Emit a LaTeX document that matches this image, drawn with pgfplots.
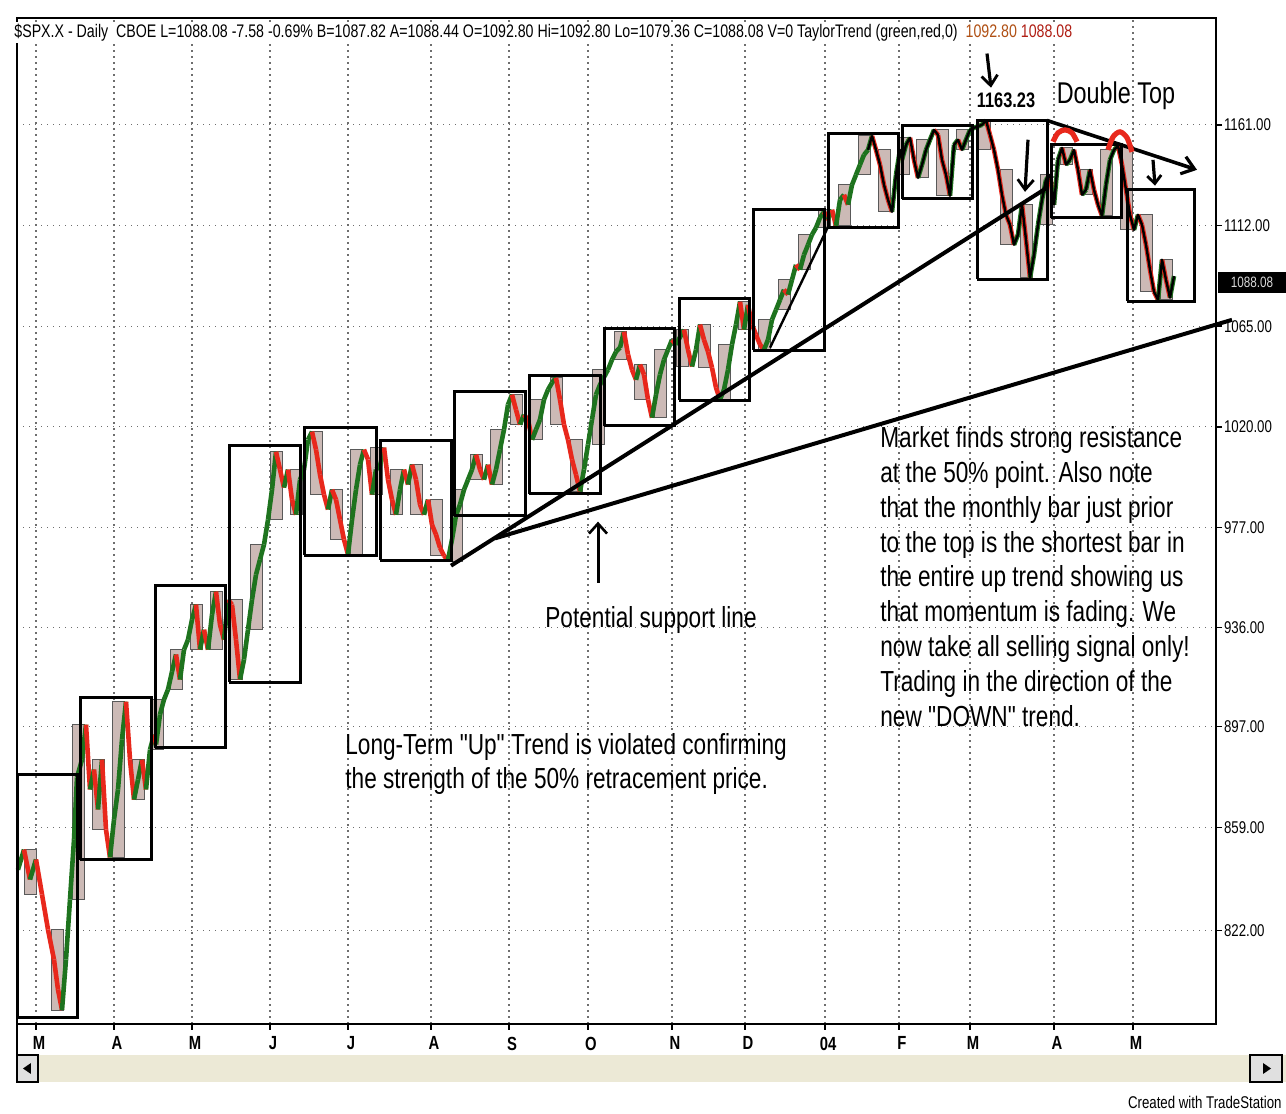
\documentclass[border=0pt]{standalone}
\usepackage{pgfplots}
\pgfplotsset{compat=1.18}
\usepackage{pgfplotstable}
\usepackage{fontspec}
\setmainfont{Liberation Sans}
\newfontfamily\narrow{Liberation Sans}[FakeStretch=0.78]
\usetikzlibrary{arrows.meta}
\definecolor{upgreen}{RGB}{30,115,30}
\definecolor{downred}{RGB}{232,40,28}
\definecolor{weekfill}{RGB}{204,186,182}
\definecolor{gridgray}{RGB}{110,110,110}
\definecolor{scrollbg}{RGB}{236,233,214}
\definecolor{hdrA}{RGB}{176,80,20}
\definecolor{hdrB}{RGB}{176,30,20}

\pgfplotstableread{
x y m
18 843.7 1
24 851.0 0
30 840.1 1
36 847.4 0
42 834.8 0
48 822.3 0
54 811.8 0
58 801.4 0
62 794.6 1
66 811.8 1
70 833.0 1
74 854.6 1
77 877.7 1
82 884.4 1
86 897.8 0
90 873.2 1
94 880.7 0
98 865.7 1
102 884.4 0
106 858.3 0
110 848.1 1
114 862.0 1
118 873.2 1
122 892.1 1
126 906.7 0
130 884.4 0
134 869.4 1
138 876.9 1
142 884.4 0
146 873.2 1
150 888.2 1
154 894.0 0
156 890.2 1
160 901.7 1
164 907.5 1
168 911.4 1
172 918.4 1
176 925.2 0
180 915.3 1
184 927.1 1
188 931.1 1
192 939.1 1
196 945.2 0
200 927.1 1
204 935.1 0
208 927.1 1
212 941.1 1
216 950.5 0
220 937.1 0
224 931.1 1
228 947.2 0
232 945.2 0
236 931.1 0
240 915.3 1
244 923.2 1
248 935.1 1
252 947.2 1
256 957.4 1
260 963.6 1
264 969.8 1
268 980.2 1
272 992.9 1
276 1009.2 0
280 1001.5 0
284 993.8 1
288 1001.5 0
292 988.7 0
296 982.3 1
300 997.2 1
304 1001.5 1
308 1014.4 1
312 1017.9 0
316 1010.1 0
320 999.3 0
324 990.8 0
328 984.5 1
332 992.9 0
336 988.7 0
340 980.2 0
344 971.9 0
348 965.7 1
352 980.2 1
356 992.9 1
360 1003.6 1
364 1010.1 0
368 1005.8 0
372 990.8 1
376 1001.5 1
380 1003.0 1
384 1011.0 0
388 997.2 0
392 988.7 0
396 982.3 1
400 992.9 1
404 1001.5 0
408 995.1 1
412 1003.6 0
416 997.2 0
420 986.6 0
424 982.3 1
428 988.7 0
432 978.1 0
436 974.0 0
440 968.5 0
444 965.2 0
448 963.5 1
452 971.9 1
456 982.0 1
460 986.6 1
464 992.9 1
468 997.2 1
472 1001.5 1
476 1007.9 0
480 1001.5 0
484 997.2 1
488 1003.6 0
492 995.1 1
496 1001.5 1
500 1010.1 1
504 1018.8 1
508 1029.8 1
512 1034.2 0
516 1027.5 0
520 1021.0 1
524 1025.4 0
528 1023.2 0
532 1014.4 1
536 1018.8 1
540 1023.2 1
544 1032.0 1
548 1036.4 1
552 1039.5 1
556 1041.7 0
560 1032.0 0
564 1021.0 0
568 1014.4 0
572 1005.8 0
576 999.3 0
580 992.1 1
584 1001.5 1
588 1012.3 1
592 1023.2 1
596 1034.2 1
600 1038.6 1
608 1045.3 1
612 1049.8 1
616 1053.4 1
620 1055.2 1
624 1062.5 0
628 1052.1 0
632 1045.3 0
636 1040.8 1
640 1047.6 0
644 1043.1 0
648 1032.0 0
652 1024.0 1
656 1034.2 1
660 1043.1 1
664 1049.8 1
668 1054.3 1
672 1058.8 0
676 1056.6 1
684 1063.4 0
688 1054.3 0
692 1046.7 1
696 1054.3 1
700 1065.7 0
704 1058.8 0
708 1053.4 0
712 1046.2 0
716 1037.3 0
720 1032.0 1
724 1036.4 1
728 1045.3 1
732 1056.6 1
736 1065.7 1
740 1076.2 0
744 1063.4 1
748 1074.8 0
752 1065.7 0
756 1061.1 0
760 1056.6 0
764 1054.3 1
768 1058.8 1
772 1068.0 1
776 1072.5 1
780 1077.1 1
784 1081.8 0
788 1079.5 1
792 1086.4 1
796 1093.4 0
800 1091.1 1
804 1098.1 1
808 1102.8 1
812 1107.6 1
816 1110.9 1
820 1115.7 1
824 1118.5 0
828 1114.7 1
832 1119.5 0
836 1111.8 1
840 1124.3 1
844 1126.7 0
848 1121.9 1
852 1131.5 1
856 1136.4 1
860 1141.3 1
864 1146.2 1
868 1148.6 1
872 1155.5 0
876 1148.6 0
880 1141.3 0
884 1131.5 0
888 1124.3 0
892 1118.5 1
896 1136.4 1
900 1148.6 0
902 1143.7 1
906 1151.1 1
910 1154.6 0
914 1143.7 0
918 1134.9 1
922 1141.3 1
926 1148.6 1
930 1153.6 1
934 1158.5 0
938 1156.0 0
942 1143.7 0
946 1136.4 0
950 1126.2 1
954 1151.1 1
958 1153.6 0
962 1148.6 1
966 1153.6 1
970 1158.5 1
974 1159.5 1
982 1161.0 1
986 1163.2 0
990 1156.0 0
994 1148.6 0
998 1138.8 0
1002 1126.7 0
1006 1117.1 0
1010 1112.3 0
1014 1102.8 1
1018 1107.6 1
1022 1121.9 0
1026 1105.2 0
1030 1087.3 1
1034 1098.1 1
1038 1112.3 1
1042 1124.3 1
1046 1134.0 1
1050 1136.4 0
1054 1121.9 1
1058 1143.7 1
1062 1149.6 0
1066 1141.3 1
1070 1143.7 1
1074 1148.6 0
1078 1138.8 0
1082 1126.7 1
1086 1129.1 1
1090 1138.8 0
1094 1129.1 0
1098 1121.9 0
1102 1116.6 1
1106 1131.5 1
1110 1143.7 1
1114 1148.6 1
1118 1150.6 0
1122 1141.3 0
1126 1129.1 0
1130 1117.1 0
1134 1109.9 1
1138 1117.1 0
1142 1112.3 0
1146 1102.8 0
1150 1091.1 0
1154 1080.8 0
1158 1077.1 1
1162 1095.8 0
1166 1086.4 0
1170 1078.1 1
1174 1088.1 0
}\pricedata

\begin{document}
\begin{tikzpicture}
\path[use as bounding box] (-8.5pt,-45pt) rectangle (634.5pt,512pt);
\begin{axis}[
  at={(0pt,0pt)}, anchor=south west,
  width=599.5pt, height=503pt, scale only axis,
  xmin=17, xmax=1216,
  ymode=log, ymin=789.9, ymax=1215.5,
  clip=false,
  axis line style={line width=0.9pt},
  tick align=outside,
  xtick pos=left, ytick pos=right, yticklabel pos=right,
  xtick={36,114,192,270,348,431,509,588,672,745,825,899,970,1054,1133},
  xticklabels={M,A,M,J,J,A,S,O,N,D,04,F,M,A,M},
  minor x tick num=3,
  ytick={822,859,897,936,977,1020,1065,1112,1161},
  yticklabels={822.00,859.00,897.00,936.00,977.00,1020.00,1065.00,1112.00,1161.00},
  yminorticks=false,
  major tick length=3pt, minor tick length=1.6pt,
  tick style={black, line width=0.7pt},
  grid=major,
  grid style={gridgray, line width=0.6pt, dash pattern=on 0.7pt off 2.3pt},
  xticklabel style={font=\narrow\bfseries\fontsize{9.5}{10}\selectfont, xshift=1.5pt},
  yticklabel style={font=\narrow\fontsize{8.5}{9}\selectfont, inner sep=0.8pt},
  colormap={updown}{color(0)=(downred) color(1)=(upgreen)},
]
% weekly range rectangles
\addplot[fill=weekfill, draw=black!65, line width=0.45pt, unbounded coords=jump, forget plot] coordinates {
(24,834.8) (36,834.8) (36,851.0) (24,851.0) (24,834.8) (30,nan)
(51,794.6) (63,794.6) (63,822.3) (51,822.3) (51,794.6) (57,nan)
(72,833.0) (84,833.0) (84,897.8) (72,897.8) (72,833.0) (78,nan)
(92,858.3) (104,858.3) (104,884.4) (92,884.4) (92,858.3) (98,nan)
(112,848.1) (124,848.1) (124,906.7) (112,906.7) (112,848.1) (118,nan)
(132,869.4) (144,869.4) (144,884.4) (132,884.4) (132,869.4) (138,nan)
(151,888.2) (163,888.2) (163,907.5) (151,907.5) (151,888.2) (157,nan)
(170,911.4) (182,911.4) (182,927.1) (170,927.1) (170,911.4) (176,nan)
(190,927.1) (202,927.1) (202,945.2) (190,945.2) (190,927.1) (196,nan)
(210,927.1) (222,927.1) (222,950.5) (210,950.5) (210,927.1) (216,nan)
(230,915.3) (242,915.3) (242,947.2) (230,947.2) (230,915.3) (236,nan)
(250,935.1) (262,935.1) (262,969.8) (250,969.8) (250,935.1) (256,nan)
(270,980.2) (282,980.2) (282,1009.2) (270,1009.2) (270,980.2) (276,nan)
(290,982.3) (302,982.3) (302,1001.5) (290,1001.5) (290,982.3) (296,nan)
(310,990.8) (322,990.8) (322,1017.9) (310,1017.9) (310,990.8) (316,nan)
(330,971.9) (342,971.9) (342,992.9) (330,992.9) (330,971.9) (336,nan)
(350,965.7) (362,965.7) (362,1010.1) (350,1010.1) (350,965.7) (356,nan)
(370,990.8) (382,990.8) (382,1011.0) (370,1011.0) (370,990.8) (376,nan)
(390,982.3) (402,982.3) (402,1001.5) (390,1001.5) (390,982.3) (396,nan)
(410,982.3) (422,982.3) (422,1003.6) (410,1003.6) (410,982.3) (416,nan)
(430,965.2) (442,965.2) (442,988.7) (430,988.7) (430,965.2) (436,nan)
(450,962.8) (462,962.8) (462,992.9) (450,992.9) (450,962.8) (456,nan)
(470,997.2) (482,997.2) (482,1007.9) (470,1007.9) (470,997.2) (476,nan)
(490,995.1) (502,995.1) (502,1018.8) (490,1018.8) (490,995.1) (496,nan)
(510,1021.0) (522,1021.0) (522,1034.2) (510,1034.2) (510,1021.0) (516,nan)
(530,1014.4) (542,1014.4) (542,1032.0) (530,1032.0) (530,1014.4) (536,nan)
(550,1021.0) (562,1021.0) (562,1041.7) (550,1041.7) (550,1021.0) (556,nan)
(570,992.1) (582,992.1) (582,1014.4) (570,1014.4) (570,992.1) (576,nan)
(592,1012.3) (604,1012.3) (604,1045.3) (592,1045.3) (592,1012.3) (598,nan)
(614,1049.8) (626,1049.8) (626,1062.5) (614,1062.5) (614,1049.8) (620,nan)
(634,1032.0) (646,1032.0) (646,1047.6) (634,1047.6) (634,1032.0) (640,nan)
(654,1024.0) (666,1024.0) (666,1054.3) (654,1054.3) (654,1024.0) (660,nan)
(676,1046.7) (688,1046.7) (688,1063.4) (676,1063.4) (676,1046.7) (682,nan)
(698,1046.2) (710,1046.2) (710,1065.7) (698,1065.7) (698,1046.2) (704,nan)
(718,1032.0) (730,1032.0) (730,1056.6) (718,1056.6) (718,1032.0) (724,nan)
(738,1063.4) (750,1063.4) (750,1076.2) (738,1076.2) (738,1063.4) (744,nan)
(758,1054.3) (770,1054.3) (770,1068.0) (758,1068.0) (758,1054.3) (764,nan)
(778,1072.5) (790,1072.5) (790,1086.4) (778,1086.4) (778,1072.5) (784,nan)
(798,1091.1) (810,1091.1) (810,1107.6) (798,1107.6) (798,1091.1) (804,nan)
(818,1110.9) (830,1110.9) (830,1119.5) (818,1119.5) (818,1110.9) (824,nan)
(838,1111.8) (850,1111.8) (850,1131.5) (838,1131.5) (838,1111.8) (844,nan)
(858,1136.4) (870,1136.4) (870,1155.5) (858,1155.5) (858,1136.4) (864,nan)
(878,1118.5) (890,1118.5) (890,1148.6) (878,1148.6) (878,1118.5) (884,nan)
(897,1136.4) (909,1136.4) (909,1154.6) (897,1154.6) (897,1136.4) (903,nan)
(916,1134.9) (928,1134.9) (928,1153.6) (916,1153.6) (916,1134.9) (922,nan)
(936,1126.2) (948,1126.2) (948,1158.5) (936,1158.5) (936,1126.2) (942,nan)
(956,1148.6) (968,1148.6) (968,1158.5) (956,1158.5) (956,1148.6) (962,nan)
(978,1148.6) (990,1148.6) (990,1163.2) (978,1163.2) (978,1148.6) (984,nan)
(1000,1102.8) (1012,1102.8) (1012,1138.8) (1000,1138.8) (1000,1102.8) (1006,nan)
(1020,1087.3) (1032,1087.3) (1032,1121.9) (1020,1121.9) (1020,1087.3) (1026,nan)
(1040,1112.3) (1052,1112.3) (1052,1136.4) (1040,1136.4) (1040,1112.3) (1046,nan)
(1060,1141.3) (1072,1141.3) (1072,1149.6) (1060,1149.6) (1060,1141.3) (1066,nan)
(1080,1126.7) (1092,1126.7) (1092,1138.8) (1080,1138.8) (1080,1126.7) (1086,nan)
(1100,1116.6) (1112,1116.6) (1112,1148.6) (1100,1148.6) (1100,1116.6) (1106,nan)
(1120,1109.9) (1132,1109.9) (1132,1150.6) (1120,1150.6) (1120,1109.9) (1126,nan)
(1140,1080.8) (1152,1080.8) (1152,1117.1) (1140,1117.1) (1140,1080.8) (1146,nan)
(1160,1077.1) (1172,1077.1) (1172,1095.8) (1160,1095.8) (1160,1077.1)
};
% daily price path, green up / red down
\addplot[mesh, shader=flat corner, point meta=explicit, line width=2.3pt, line join=round, forget plot]
  table[x=x, y=y, meta=m] {\pricedata};
\addplot[black, line width=1.2pt, line join=round, restrict x to domain=866:1180, forget plot]
  table[x=x, y=y] {\pricedata};
% monthly boxes
\addplot[black, line width=1.5pt, line join=miter, unbounded coords=jump, forget plot] coordinates {
(17,791.9) (77,791.9) (77,878.8) (17,878.8) (17,791.9) (47,nan)
(80,847.3) (151,847.3) (151,908.3) (80,908.3) (80,847.3) (115,nan)
(155,889.0) (225,889.0) (225,953.0) (155,953.0) (155,889.0) (190,nan)
(229,914.2) (300,914.2) (300,1011.7) (229,1011.7) (229,914.2) (265,nan)
(304,965.3) (376,965.3) (376,1019.6) (304,1019.6) (304,965.3) (340,nan)
(380,963.3) (451,963.3) (451,1013.9) (380,1013.9) (380,963.3) (415,nan)
(454,981.8) (525,981.8) (525,1035.8) (454,1035.8) (454,981.8) (490,nan)
(529,991.1) (600,991.1) (600,1042.9) (529,1042.9) (529,991.1) (565,nan)
(604,1020.4) (674,1020.4) (674,1064.1) (604,1064.1) (604,1020.4) (640,nan)
(679,1031.8) (749,1031.8) (749,1077.8) (679,1077.8) (679,1031.8) (715,nan)
(753,1054.1) (824,1054.1) (824,1119.5) (753,1119.5) (753,1054.1) (790,nan)
(828,1111.0) (898,1111.0) (898,1156.5) (828,1156.5) (828,1111.0) (865,nan)
(902,1124.8) (972,1124.8) (972,1160.5) (902,1160.5) (902,1124.8) (940,nan)
(977,1086.6) (1047,1086.6) (1047,1163.2) (977,1163.2) (977,1086.6) (1010,nan)
(1051,1115.7) (1121,1115.7) (1121,1151.1) (1051,1151.1) (1051,1115.7) (1085,nan)
(1127,1076.4) (1194,1076.4) (1194,1129.1) (1127,1129.1) (1127,1076.4)
};
% trend lines
\addplot[black, line width=2pt, forget plot] coordinates {(451,961.1) (1047,1130.1)};
\addplot[black, line width=2pt, forget plot] coordinates {(495,972.4) (1232,1067.9)};
\addplot[black, line width=1.2pt, forget plot] coordinates {(770,1055.2) (829,1112.3)};
\addplot[black, line width=1.8pt, -{Straight Barb[length=6pt,width=9pt,line width=1.6pt]}, forget plot]
  coordinates {(1047,1163.2) (1197,1138.8)};
% red tops of the double top
\addplot[downred, line width=2.6pt, smooth, forget plot] coordinates {(1053,1152.6) (1058,1157.0) (1065,1158.5) (1072,1157.0) (1077,1152.6)};
\addplot[downred, line width=2.6pt, smooth, forget plot] coordinates {(1108,1148.6) (1113,1155.0) (1120,1157.5) (1127,1154.6) (1132,1147.6)};
% arrows
\draw[line width=1.6pt, -{Straight Barb[length=5pt,width=8pt,line width=1.4pt]}] (axis cs:987,1197) -- (axis cs:991,1179.6);
\draw[line width=1.6pt, -{Straight Barb[length=5pt,width=8pt,line width=1.4pt]}] (axis cs:1028,1153.6) -- (axis cs:1025,1128.1);
\draw[line width=1.6pt, -{Straight Barb[length=4pt,width=7pt,line width=1.4pt]}] (axis cs:1153,1143.7) -- (axis cs:1155,1131.1);
\draw[line width=1.5pt, -{Straight Barb[length=5pt,width=9pt,line width=1.3pt]}] (axis cs:598,954.1) -- (axis cs:598,979.4);
% texts
\node[anchor=west, fill=white, inner sep=1pt, font=\narrow\fontsize{9.1}{10}\selectfont] at (axis cs:12,1207.7)
  {\$SPX.X - Daily\ \ CBOE L=1088.08 -7.58 -0.69\% B=1087.82 A=1088.44 O=1092.80 Hi=1092.80 Lo=1079.36 C=1088.08 V=0 TaylorTrend (green,red,0)\ \ {\color{hdrA}1092.80} {\color{hdrB}1088.08}};
\node[font=\narrow\bfseries\fontsize{10.5}{12}\selectfont] at (axis cs:1006,1173.5) {1163.23};
\node[font=\narrow\fontsize{15}{18}\selectfont] at (axis cs:1116,1175.5) {Double Top};
\node[anchor=west, inner sep=0pt, font=\narrow\fontsize{14.5}{17.4}\selectfont] at (axis cs:545,939.1) {Potential support line};
\node[anchor=west, inner sep=0pt, align=left, font=\narrow\fontsize{14.5}{17}\selectfont] at (axis cs:345,882.9)
  {Long-Term "Up" Trend is violated confirming\\the strength of the 50\% retracement price.};
\node[anchor=west, inner sep=0pt, align=left, font=\narrow\fontsize{14.5}{17.4}\selectfont] at (axis cs:880,956.6)
  {Market finds strong resistance\\at the 50\% point. Also note\\that the monthly bar just prior\\to the top is the shortest bar in\\the entire up trend showing us\\that momentum is fading. We\\now take all selling signal only!\\Trading in the direction of the\\new "DOWN" trend.};
\end{axis}
% last-price tag
\fill[black] (600.5pt,365.5pt) rectangle (634.5pt,376pt);
\node[text=white!85!black, font=\narrow\fontsize{7.5}{8}\selectfont, inner sep=0pt] at (617.5pt,370.75pt) {1088.08};
% scroll bar
\fill[scrollbg] (0pt,-15.5pt) rectangle (634.5pt,-29pt);
\draw[black, line width=1pt] (0pt,0pt) -- (0pt,-29pt);
\draw[black, line width=0.9pt, fill=black!12] (0pt,-15.5pt) rectangle (10.5pt,-29pt);
\fill[black] (3pt,-22.25pt) -- (7pt,-19.5pt) -- (7pt,-25pt) -- cycle;
\draw[black, line width=0.9pt, fill=black!12] (616.5pt,-15.5pt) rectangle (632.5pt,-29pt);
\fill[black] (627pt,-22.25pt) -- (623pt,-19.5pt) -- (623pt,-25pt) -- cycle;
\node[anchor=east, inner sep=0pt, font=\narrow\fontsize{8.5}{10}\selectfont] at (632.5pt,-39pt) {Created with TradeStation};
\end{tikzpicture}
\end{document}
